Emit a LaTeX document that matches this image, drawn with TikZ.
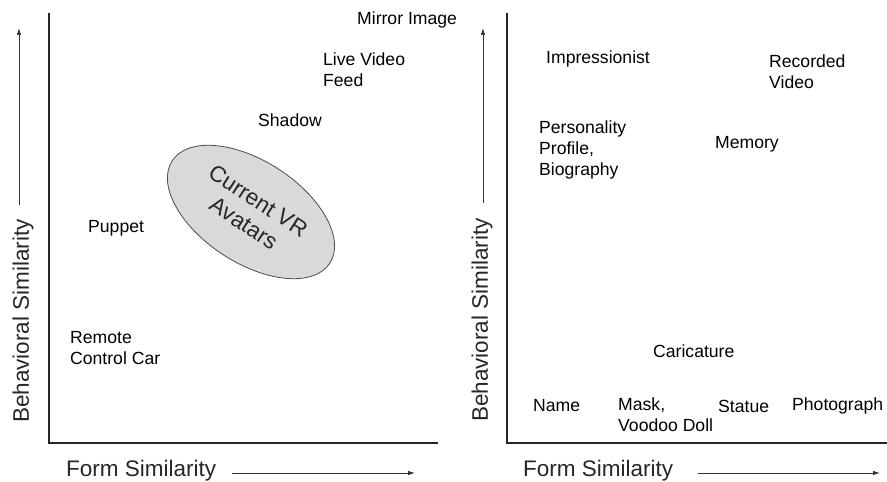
\documentclass[tikz,border=0pt]{standalone}
\usepackage{fontspec}
\setmainfont{Liberation Sans}
\usetikzlibrary{arrows.meta,shapes.geometric}
\begin{document}
\begin{tikzpicture}[x=1pt,y=1pt,
  lbl/.style={anchor=west,inner sep=0pt,align=left,font=\fontsize{17.6}{21}\selectfont,text=black},
  axislbl/.style={inner sep=0pt,font=\fontsize{22.5}{26}\selectfont,text=black!85},
  axisline/.style={line width=2.8pt,black!85},
  dirarrow/.style={line width=0.8pt,black!80,-{Latex[length=7pt,width=4.5pt]}}]
\useasboundingbox (0,0) rectangle (887,482);
% left panel axes
\coordinate (LO) at (49,39);
\coordinate (LT) at (49,469);
\coordinate (LR) at (438,39);
\draw[axisline] (LT) -- (LO) -- (LR);
% right panel axes
\coordinate (RO) at (507,39);
\coordinate (RT) at (507,469);
\coordinate (RR) at (887,39);
\draw[axisline] (RT) -- (RO) -- (RR);
% direction arrows
\coordinate (LYa) at (19,277);
\coordinate (LYb) at (19,454);
\draw[dirarrow] (LYa) -- (LYb);
\coordinate (RYa) at (483,279);
\coordinate (RYb) at (483,454);
\draw[dirarrow] (RYa) -- (RYb);
\coordinate (LXa) at (232,9);
\coordinate (LXb) at (415,9);
\draw[dirarrow] (LXa) -- (LXb);
\coordinate (RXa) at (698,9);
\coordinate (RXb) at (880,9);
\draw[dirarrow] (RXa) -- (RXb);
% axis labels
\node[axislbl,rotate=90] (lby) at (23,161) {Behavioral Similarity};
\node[axislbl,rotate=90] (rby) at (482,162) {Behavioral Similarity};
\node[axislbl,anchor=west] (lfx) at (66,11) {Form Similarity};
\node[axislbl,anchor=west] (rfx) at (523,11) {Form Similarity};
% ellipse with its text
\node[draw=black!70,fill=black!15,line width=0.8pt,ellipse,minimum width=188pt,minimum height=102pt,rotate=-33,inner sep=0pt,align=center,font=\fontsize{22.5}{26.5}\selectfont,text=black!85] (avat) at (251,270) {Current VR\\Avatars};
% left labels
\node[lbl] (mirror) at (357,462) {Mirror Image};
\node[lbl] (live) at (323,412) {Live Video\\Feed};
\node[lbl] (shadow) at (258,362) {Shadow};
\node[lbl] (puppet) at (88,254) {Puppet};
\node[lbl] (remote) at (70,134) {Remote\\Control Car};
% right labels
\node[lbl] (impr) at (546,423) {Impressionist};
\node[lbl] (recvid) at (769,410) {Recorded\\Video};
\node[lbl] (pers) at (539,332) {Personality\\Profile,\\Biography};
\node[lbl] (memory) at (715,338) {Memory};
\node[lbl] (caric) at (653,131) {Caricature};
\node[lbl] (name) at (533,76) {Name};
\node[lbl,anchor=north west] (mask) at (618,84) {Mask,\\Voodoo Doll};
\node[lbl] (statue) at (718,76) {Statue};
\node[lbl] (photo) at (792,76) {Photograph};
\end{tikzpicture}
\end{document}
